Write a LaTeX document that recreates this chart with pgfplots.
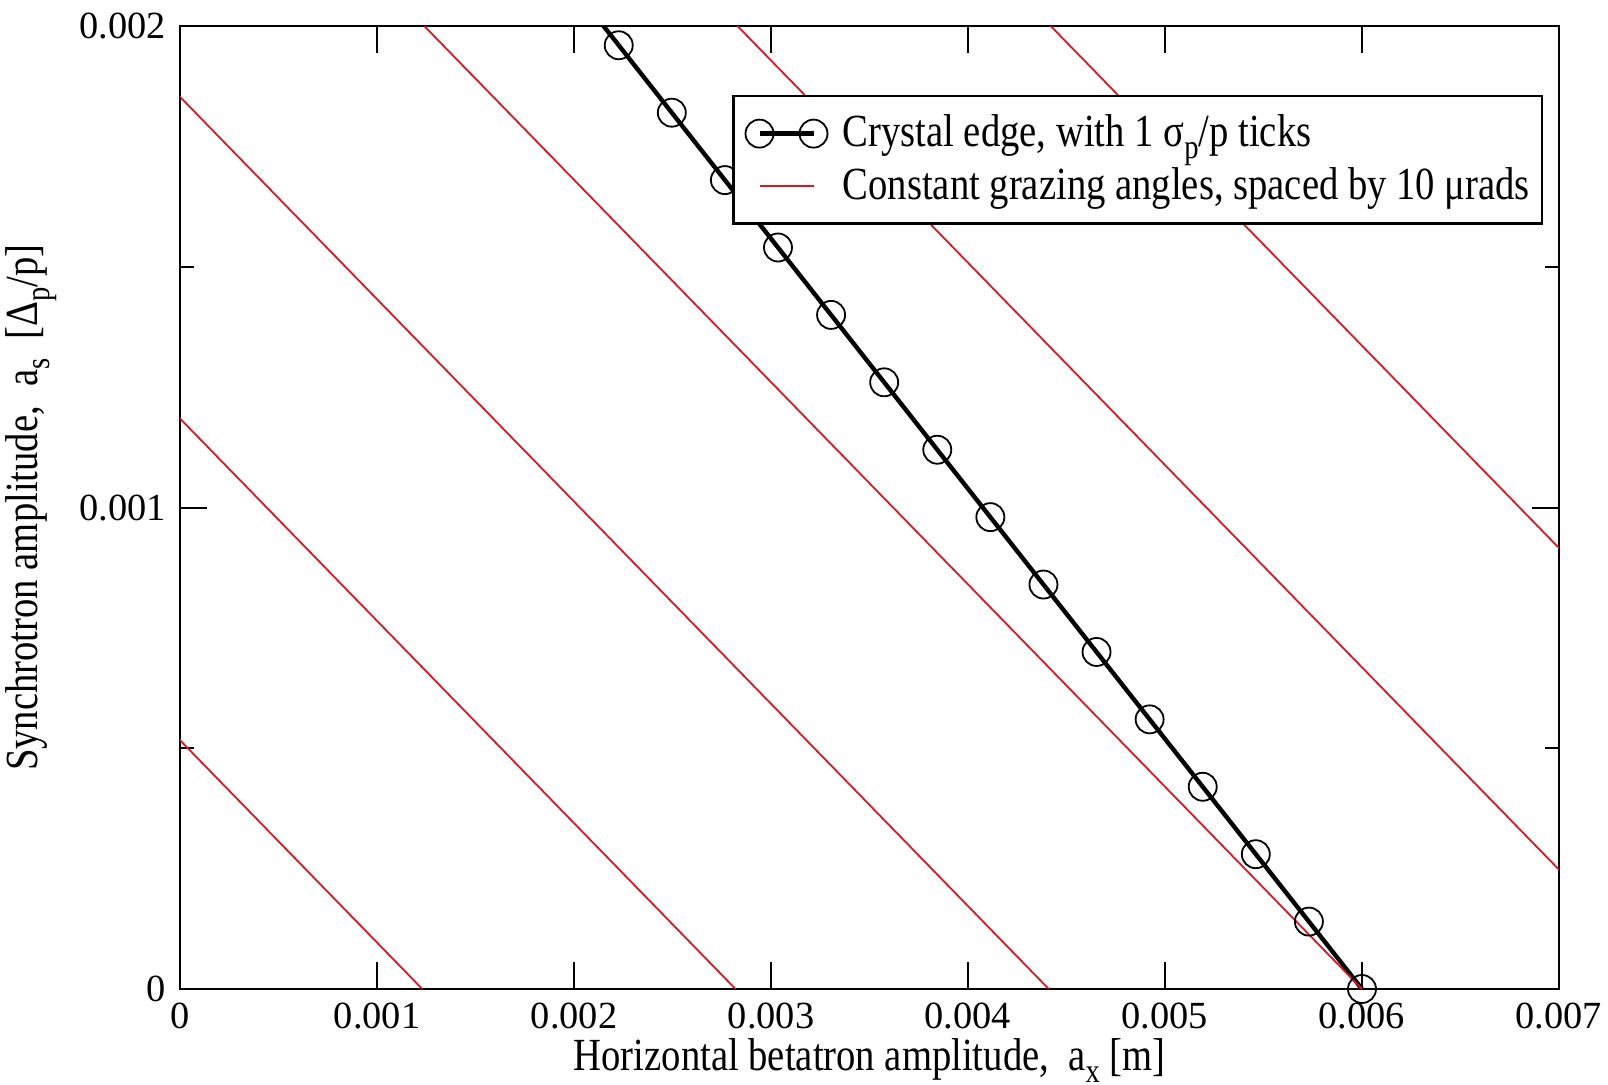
\documentclass[border=0pt]{standalone}
\usepackage{fontspec}
\setmainfont{Liberation Serif}[FakeStretch=0.84]
\newfontfamily\tickfont{Liberation Serif}
\usepackage{pgfplots}
\pgfplotsset{compat=1.18}
\definecolor{gracered}{RGB}{215,25,35}
\newcommand\sub[1]{\raisebox{-0.55ex}{\fontsize{8.5}{9}\selectfont #1}}
\pgfplotsset{
  edge legend/.style={legend image code/.code={\path (-5pt,0pt);
    \draw[##1,mark repeat=1] plot coordinates {(0pt,0pt) (13.5pt,0pt)};}},
  red legend/.style={legend image code/.code={\path (-5pt,0pt);
    \draw[##1] (0pt,0pt) -- (13.5pt,0pt);}},
}

\begin{document}
\begin{tikzpicture}
\begin{axis}[
  at={(0pt,0pt)}, anchor=south west,
  scale only axis, width=344.75pt, height=240.75pt,
  xmin=0, xmax=0.007, ymin=0, ymax=0.002,
  xtick={0,0.001,0.002,0.003,0.004,0.005,0.006,0.007},
  xticklabels={0,0.001,0.002,0.003,0.004,0.005,0.006,0.007},
  ytick={0,0.001,0.002}, yticklabels={0,0.001,0.002},
  minor ytick={0.0005,0.0015},
  scaled ticks=false, tick align=inside,
  major tick length=6.75pt, minor tick length=3.5pt,
  every tick/.append style={black, line width=0.5pt},
  axis line style={line width=0.5pt},
  ticklabel style={font=\tickfont\fontsize{9.6}{11}\selectfont},
  label style={font=\fontsize{11.5}{13}\selectfont},
  xlabel={Horizontal betatron amplitude,\ \ a\sub{x} [m]},
  ylabel={Synchrotron amplitude,\ \ a\sub{s}\ \ [Δ\sub{p}/p]},
  xlabel style={at={(axis description cs:0.5,-0.0850)}, anchor=base},
  ylabel style={at={(axis description cs:-0.108,0.5)}, anchor=center},
  legend style={at={(0.9884,0.9283)}, anchor=north east, draw=black,
    line width=0.6pt, fill=white, font=\fontsize{11.5}{13}\selectfont,
    inner xsep=1pt, inner ysep=2.6pt, row sep=-0.3pt,
    /tikz/every odd column/.append style={column sep=1.8pt}},
  legend cell align=left,
]
% crystal edge, markers every 1 sigma_p/p
\addplot[black, line width=1.1pt, mark=o, mark size=3.5pt,
  mark options={line width=0.45pt, solid}, edge legend]
  coordinates {
  (0.006,0) (0.0057305,0.00014) (0.005461,0.00028) (0.0051915,0.00042)
  (0.004922,0.00056) (0.0046525,0.0007) (0.004383,0.00084) (0.0041135,0.00098)
  (0.003844,0.00112) (0.0035745,0.00126) (0.003305,0.0014) (0.0030355,0.00154)
  (0.002766,0.00168) (0.0024965,0.00182) (0.002227,0.00196)};
\addlegendentry{Crystal edge, with 1 σ\sub{p}/p ticks}
\addplot[black, line width=1.1pt, forget plot] coordinates {(0.002227,0.00196) (0.002073,0.00204)};
% constant grazing angles
\addplot[gracered, line width=0.45pt, red legend]
  coordinates {(-0.00353,0.002) (0.00123,0)};
\addlegendentry{Constant grazing angles, spaced by 10 μrads}
\addplot[gracered, line width=0.45pt, forget plot] coordinates {(-0.00194,0.002) (0.00282,0)};
\addplot[gracered, line width=0.45pt, forget plot] coordinates {(-0.00035,0.002) (0.00441,0)};
\addplot[gracered, line width=0.45pt, forget plot] coordinates {(0.00124,0.002) (0.006,0)};
\addplot[gracered, line width=0.45pt, forget plot] coordinates {(0.00283,0.002) (0.00759,0)};
\addplot[gracered, line width=0.45pt, forget plot] coordinates {(0.00442,0.002) (0.00918,0)};
\end{axis}
\pgfresetboundingbox
\path (-45pt,-23.75pt) rectangle (357pt,247.25pt);
\end{tikzpicture}
\end{document}
